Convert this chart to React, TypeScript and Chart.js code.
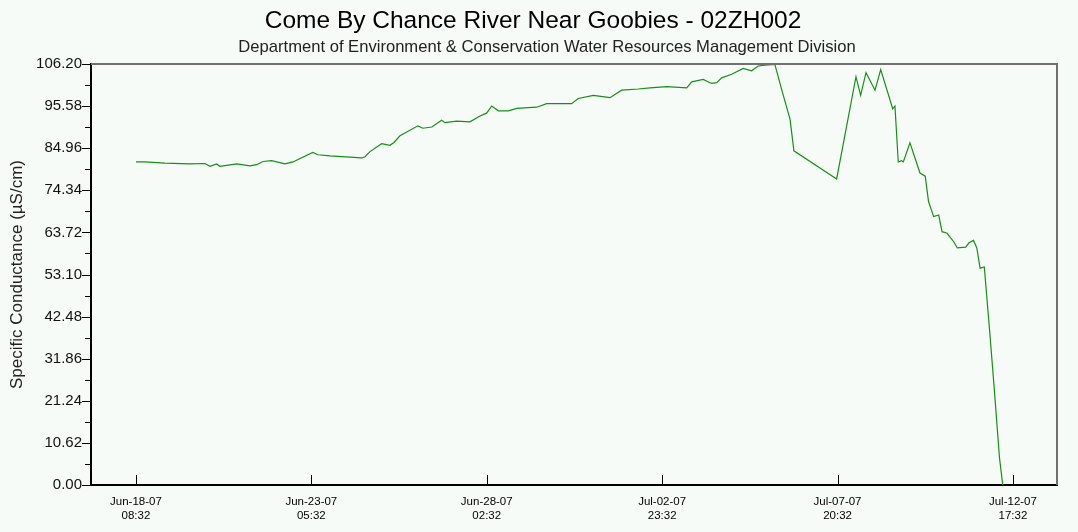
import React, { useEffect, useRef } from "react";
import { Chart, registerables } from "chart.js";

Chart.register(...registerables);

// Hours elapsed since Jun-18-07 08:32
const elapsedHours = [
  0, 6.0, 19.3, 36.0, 46.0, 49.4, 53.8, 56.0, 67.2, 76.0, 80.5, 84.7, 90.5, 99.4, 104.7,
  117.9, 121.4, 129.4, 150.6, 152.8, 156.1, 163.9, 169.4, 172.1, 176.1, 188.1, 191.4,
  197.3, 203.9, 206.1, 213.9, 222.8, 229.5, 233.9, 237.3, 241.7, 248.4, 254.0, 261.7,
  267.3, 274.0, 290.6, 295.0, 305.1, 316.2, 324.0, 335.1, 342.9, 354.0, 367.4, 370.7,
  378.4, 384.0, 387.4, 390.7, 397.4, 405.1, 410.7, 415.1, 419.6, 426.2, 430.7, 436.3,
  438.9, 467.4, 474.1, 480.3, 483.4, 487.0, 493.0, 496.8, 504.8, 506.3, 508.5, 510.8,
  511.9, 516.3, 523.0, 526.5, 528.7, 532.1, 535.5, 537.7, 541.1, 545.6, 547.9, 553.5,
  555.7, 558.7, 560.9, 563.1, 565.9, 569.2, 572.6, 576.0, 578.2,
];

// Specific conductance (µS/cm)
const conductance = [
  81.5, 81.5, 81.2, 81.0, 81.1, 80.4, 81.0, 80.4, 81.0, 80.5, 80.8, 81.6, 81.8, 81.0, 81.5,
  83.9, 83.3, 83.0, 82.5, 82.8, 84.1, 86.1, 85.7, 86.4, 88.1, 90.6, 90.0,
  90.3, 92.0, 91.4, 91.8, 91.6, 93.1, 93.8, 95.6, 94.4, 94.4, 95.0, 95.2,
  95.3, 96.2, 96.2, 97.5, 98.3, 97.7, 99.6, 99.9, 100.2, 100.5, 100.2, 101.7,
  102.3, 101.3, 101.5, 102.7, 103.6, 105.1, 104.5, 105.7, 105.9, 106.1, 99.8, 92.3,
  84.3, 77.2, 90.6, 103.0, 98.3, 104.0, 99.6, 104.8, 94.9, 95.6, 81.5, 81.8,
  81.5, 86.3, 78.7, 77.9, 71.5, 67.7, 68.1, 63.9, 63.5, 61.3, 59.8, 60.0,
  61.1, 61.7, 59.8, 54.7, 55.0, 40.1, 24.0, 7.0, 0.0,
];

const xTickHours = [0, 117, 234, 351, 468, 585];
const yStep = 5.31;
const yTickCount = 21;
const MONTHS = ["Jan", "Feb", "Mar", "Apr", "May", "Jun", "Jul", "Aug", "Sep", "Oct", "Nov", "Dec"];
const START_MS = Date.UTC(2007, 5, 18, 8, 32);

const TITLE = "Come By Chance River Near Goobies - 02ZH002";
const SUBTITLE = "Department of Environment & Conservation Water Resources Management Division";
const Y_TITLE = "Specific Conductance (µS/cm)";

const FONT = '"Liberation Sans", Arial, sans-serif';

function fmtLabel(h: number): string[] {
  const d = new Date(START_MS + h * 3600e3);
  const pad = (n: number) => (n < 10 ? "0" + n : "" + n);
  const yy = pad(d.getUTCFullYear() % 100);
  return [
    `${MONTHS[d.getUTCMonth()]}-${pad(d.getUTCDate())}-${yy}`,
    `${pad(d.getUTCHours())}:${pad(d.getUTCMinutes())}`,
  ];
}

const decoPlugin = {
  id: "deco",
  afterDraw(chart: any) {
    const { ctx, chartArea } = chart;
    const { left, right, top, bottom } = chartArea;
    ctx.save();
    // top + right frame
    ctx.strokeStyle = "#707070";
    ctx.lineWidth = 2;
    ctx.beginPath();
    ctx.moveTo(left, top);
    ctx.lineTo(right, top);
    ctx.lineTo(right, bottom);
    ctx.stroke();
    // y ticks (outward)
    const ys = chart.scales.y;
    ctx.strokeStyle = "#000";
    ctx.lineWidth = 1;
    for (let i = 0; i < yTickCount; i++) {
      const py = Math.round(ys.getPixelForValue(i * yStep)) + 0.5;
      const len = i % 2 === 0 ? 9 : 6;
      ctx.beginPath();
      ctx.moveTo(left - len, py);
      ctx.lineTo(left, py);
      ctx.stroke();
    }
    // x ticks (inward)
    const xs = chart.scales.x;
    for (const h of xTickHours) {
      const px = Math.round(xs.getPixelForValue(h)) + 0.5;
      ctx.beginPath();
      ctx.moveTo(px, bottom);
      ctx.lineTo(px, bottom - 10);
      ctx.stroke();
    }
    // titles
    ctx.fillStyle = "#000";
    ctx.textAlign = "center";
    ctx.textBaseline = "middle";
    ctx.font = `24.5px ${FONT}`;
    ctx.fillText(TITLE, 533, 21);
    ctx.fillStyle = "#222";
    ctx.font = `16.6px ${FONT}`;
    ctx.fillText(SUBTITLE, 547, 47);
    ctx.restore();
  },
};

export default function App() {
  const ref = useRef<HTMLCanvasElement | null>(null);

  useEffect(() => {
    if (!ref.current) return;
    const chart = new Chart(ref.current, {
      type: "line",
      data: {
        datasets: [
          {
            data: elapsedHours.map((h, i) => ({ x: h, y: conductance[i] })),
            borderColor: "rgb(20,145,20)",
            borderWidth: 1.2,
            pointRadius: 0,
            tension: 0,
            fill: false,
          },
        ],
      },
      options: {
        responsive: false,
        animation: false,
        layout: { padding: { left: 0, top: 64, right: 21, bottom: 0 } },
        plugins: { legend: { display: false }, tooltip: { enabled: false }, title: { display: false } },
        scales: {
          x: {
            type: "linear",
            min: -30,
            max: 614.4,
            afterBuildTicks: (scale: any) => {
              scale.ticks = xTickHours.map((v) => ({ value: v }));
            },
            afterFit: (scale: any) => {
              scale.height = 47;
            },
            grid: { drawOnChartArea: false, drawTicks: false },
            border: { display: true, color: "#000", width: 2 },
            ticks: {
              autoSkip: false,
              maxRotation: 0,
              padding: 10,
              color: "#000",
              font: { family: FONT, size: 11.5 },
              callback: (v: any) => fmtLabel(Number(v)),
            },
          },
          y: {
            type: "linear",
            min: 0,
            max: 106.2,
            afterBuildTicks: (scale: any) => {
              const t = [];
              for (let i = 0; i < yTickCount; i++) t.push({ value: i * yStep });
              scale.ticks = t;
            },
            afterFit: (scale: any) => {
              scale.width = 91;
            },
            grid: { drawOnChartArea: false, drawTicks: false },
            border: { display: true, color: "#000", width: 2 },
            ticks: {
              autoSkip: false,
              padding: 9,
              color: "#111",
              font: { family: FONT, size: 15 },
              callback: (v: any, i: number) => (i % 2 === 0 ? Number(v).toFixed(2) : ""),
            },
            title: {
              display: true,
              text: Y_TITLE,
              color: "#222",
              font: { family: FONT, size: 17 },
              padding: { top: 7, bottom: 0 },
            },
          },
        },
      },
      plugins: [decoPlugin],
    } as any);
    return () => chart.destroy();
  }, []);

  return (
    <div style={{ position: "fixed", left: 0, top: 0, width: 1078, height: 532, background: "#f7fbf7" }}>
      <canvas ref={ref} width={1078} height={532} style={{ display: "block" }} />
    </div>
  );
}
